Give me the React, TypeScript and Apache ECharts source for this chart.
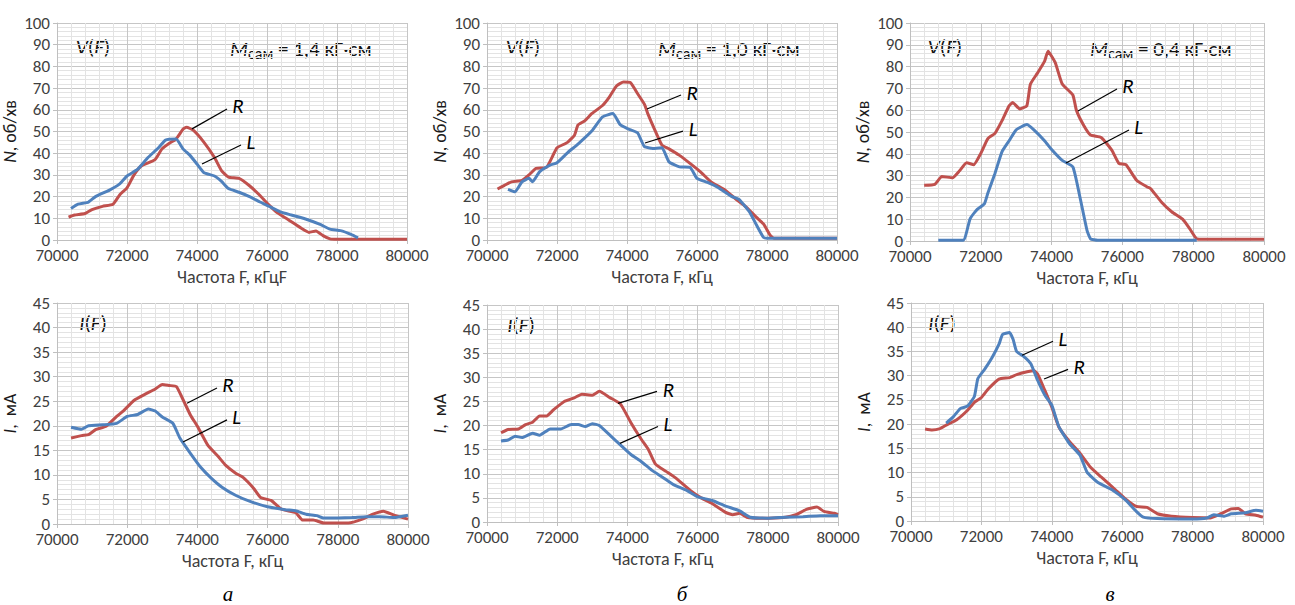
import React, { useEffect, useRef } from "react";
import * as echarts from "echarts";

const FONT = "Carlito, 'Liberation Sans', Arial, sans-serif";
const RED = "#c0504d";
const BLUE = "#4f81bd";

// ---- data (F, value) ----
const topA_R = [[70330,10.5],[70500,11.5],[70800,12.2],[71000,14],[71300,15.5],[71600,16.5],[71800,21],[72000,24],[72200,30],[72400,34],[72800,37],[73000,42],[73200,44.5],[73400,46.5],[73600,51],[73700,52],[73900,50.5],[74200,45],[74500,38],[74700,32],[74900,29],[75200,28.4],[75500,25],[75800,20.5],[76000,17],[76300,12.5],[76600,9.5],[77000,5.2],[77200,3.5],[77400,4.2],[77600,2],[77800,0.5],[78000,0.3],[80000,0.3]];
const topA_L = [[70400,14.5],[70600,16.5],[70900,17.5],[71100,20],[71500,23],[71800,26],[72000,29.5],[72300,32.5],[72600,38],[72900,42.5],[73100,46],[73400,46.5],[73600,42],[73800,39],[74000,35],[74200,31],[74500,29.5],[74700,27],[74900,23.7],[75200,22],[75500,20],[75800,17.5],[76000,16],[76400,12.8],[76700,11.5],[77100,9.7],[77500,7.3],[77800,5],[78100,4.3],[78400,2.6],[78600,1]];
const topB_R = [[70300,23.5],[70500,25.2],[70700,26.8],[71000,27.5],[71200,30],[71400,33],[71700,33.5],[71900,39.5],[72000,42.5],[72300,45],[72500,48.3],[72600,53],[72800,55],[73000,58.3],[73300,62],[73500,66],[73700,71],[73900,72.8],[74100,72.5],[74300,67.5],[74500,62.5],[74600,58],[74800,50.5],[75000,43.7],[75200,42],[75500,39],[75800,35.3],[76100,31.4],[76400,26.8],[76800,23],[77100,19],[77400,15.3],[77700,10.4],[77900,7.4],[78100,2],[78200,0.8],[80000,0.8]];
const topB_L = [[70600,23.3],[70800,22.2],[71000,26.8],[71200,28.4],[71300,26.8],[71500,31.4],[71800,34.5],[72000,35.6],[72300,40.2],[72600,44.2],[73000,50.3],[73300,56.7],[73600,58.3],[73800,53.2],[74000,51.4],[74300,49.4],[74500,43],[74800,42.2],[75000,42.5],[75200,36],[75500,33.7],[75800,33.5],[76000,28.4],[76300,26.5],[76600,24.2],[77000,20],[77200,18.7],[77500,13],[77700,6.9],[77900,1.2],[78000,0.8],[80000,0.8]];
const topC_R = [[70400,25.6],[70700,26],[70900,29.6],[71200,29],[71400,32.2],[71600,35.9],[71800,35],[72000,40.2],[72200,47],[72400,49.4],[72600,55.2],[72800,62],[72900,63.5],[73100,60.6],[73300,62],[73400,71.9],[73600,77],[73800,82.4],[73900,87],[74100,81.9],[74300,72],[74600,67],[74700,60],[74900,53.2],[75100,48.6],[75400,47.5],[75700,41.7],[75900,35.6],[76100,35],[76400,27.9],[76700,24.8],[76800,24],[77100,17.9],[77400,13.3],[77700,10],[77900,5.7],[78100,1],[78300,0.8],[80000,0.8]];
const topC_L = [[70800,0.3],[71500,0.3],[71700,10.3],[71900,14.5],[72100,17],[72200,22],[72400,31],[72600,41],[72800,46],[73000,51],[73300,53.4],[73500,51],[73800,46],[74000,42],[74300,37],[74600,34],[74800,20.2],[75000,4.9],[75100,1],[75300,0.3],[78100,0.3]];
const botA_R = [[70400,17.5],[70700,18],[70900,18.2],[71100,19.2],[71400,19.9],[71700,21.9],[71900,23.1],[72200,25.2],[72500,26.4],[72800,27.5],[73000,28.4],[73200,28.2],[73400,28],[73600,25.2],[73800,22.2],[74000,19.9],[74300,16],[74600,13.7],[74800,12],[75100,10.3],[75300,9.5],[75600,7.3],[75800,5.4],[76100,4.8],[76400,3],[76800,2.3],[77000,0.8],[77300,0.8],[77600,0.2],[78300,0.2],[78700,1],[79000,2],[79300,2.6],[79600,1.8],[80000,1]];
const botA_L = [[70400,19.7],[70700,19.3],[70900,20],[71300,20.2],[71700,20.5],[72000,21.9],[72300,22.3],[72600,23.4],[72800,23],[73000,21.8],[73300,20.5],[73500,17.5],[73800,14.4],[74100,11.5],[74400,9.3],[74700,7.5],[75100,5.8],[75500,4.6],[76000,3.5],[76500,2.9],[76800,2.7],[77100,2],[77400,1.7],[77600,1.2],[78400,1.3],[78800,1.5],[79200,1.5],[79600,1.3],[80000,1.8]];
const botB_R = [[70400,18.5],[70600,19.2],[70900,19.3],[71100,20.2],[71300,20.7],[71500,22],[71700,22],[71900,23.3],[72200,25],[72500,25.8],[72700,26.5],[73000,26.3],[73200,27.1],[73500,25.8],[73800,24.5],[74100,20.6],[74400,17.1],[74600,15],[74800,12],[75100,10.5],[75400,9],[75800,6.5],[76100,5],[76400,3.9],[76800,2],[77000,1.5],[77200,1.8],[77400,1],[77800,0.8],[78500,1],[78800,1.5],[79100,2.6],[79400,3.1],[79600,2.2],[79900,1.8],[80000,1.5]];
const botB_L = [[70400,16.8],[70600,17],[70800,17.8],[71000,17.5],[71300,18.4],[71500,18],[71800,19.3],[72100,19.3],[72400,20.2],[72600,20.2],[72800,19.8],[73000,20.4],[73200,20],[73500,18],[73800,16],[74100,14],[74400,12.5],[74700,10.7],[75000,9.3],[75300,7.8],[75700,6.5],[76000,5.2],[76400,4.5],[76800,3.3],[77200,2.3],[77500,1],[78000,0.8],[78500,1],[79000,1.1],[79500,1.3],[80000,1.3]];
const botC_R = [[70400,19],[70600,18.8],[70800,19],[71000,19.8],[71300,20.9],[71600,22.8],[71800,24.5],[72000,25.5],[72200,27.3],[72500,29.3],[72800,29.6],[73000,30.2],[73300,30.8],[73500,31],[73600,30.3],[73800,27],[74000,23.5],[74200,19.4],[74500,16.4],[74800,14],[75100,11.1],[75400,9.1],[75800,6.5],[76100,4.5],[76400,3],[76700,2.8],[77000,1.5],[77400,1],[78000,0.7],[78500,0.6],[78800,1.5],[79100,2.5],[79300,2.6],[79500,1.5],[79800,1.2],[80000,0.8]];
const botC_L = [[71000,20.2],[71200,21.5],[71400,23.2],[71600,23.7],[71800,25.7],[71900,29.4],[72100,31.4],[72300,33.7],[72500,36.5],[72600,38.5],[72800,38.9],[72900,37.5],[73000,35],[73200,34],[73400,32.5],[73600,29],[73800,26],[74000,23.9],[74200,19.5],[74500,16],[74800,13.6],[75000,10.1],[75300,8],[75700,6.5],[76100,4.3],[76400,2],[76600,0.8],[77000,0.5],[78000,0.4],[78400,0.6],[78600,1.3],[78900,1],[79100,1.5],[79500,1.7],[79800,2.2],[80000,2]];

// leader lines (data coordinates)
const leadTopA_R = [[73857,51.2],[74857,60.4]];
const leadTopA_L = [[74143,35],[75257,43.8]];
const leadTopB_R = [[74571,60.4],[75543,66.8]];
const leadTopB_L = [[74514,44.7],[75600,50.2]];
const leadTopC_R = [[74746,59.6],[75847,69.7]];
const leadTopC_L = [[74407,35.8],[76186,50.9]];
const leadBotA_R = [[73704,24.6],[74558,27.7]];
const leadBotA_L = [[73590,16.7],[74843,21.2]];
const leadBotB_R = [[73732,24.6],[74843,27.1]];
const leadBotB_L = [[73789,16.3],[74872,19.8]];
const leadBotC_R = [[73780,29.3],[74461,31.3]];
const leadBotC_L = [[73156,34.2],[74035,37.1]];

const xTitles = ["Частота F, кГцF", "Частота F, кГц", "Частота F, кГц", "Частота F, кГц", "Частота F, кГц", "Частота F, кГц"];
const torques = ["1,4", "1,0", "0,4"];
const captions = ["а", "б", "в"];

const grids = [
  { left: 57, top: 23, width: 350, height: 217 },
  { left: 487, top: 23, width: 350, height: 217 },
  { left: 910, top: 23, width: 354, height: 218 },
  { left: 57, top: 303, width: 351, height: 221 },
  { left: 487, top: 305, width: 351, height: 217 },
  { left: 911, top: 303, width: 352, height: 218 },
];

const TXT = "#404040";

function xAx(i: number) {
  return {
    type: "value", gridIndex: i, min: 70000, max: 80000, interval: 2000,
    name: xTitles[i], nameLocation: "middle", nameGap: 28,
    nameTextStyle: { fontSize: 18, color: TXT, fontFamily: FONT },
    axisLine: { show: true, onZero: false, lineStyle: { color: "#bfbfbf" } },
    axisTick: { show: true, length: 4, lineStyle: { color: "#bfbfbf" } },
    axisLabel: { fontSize: 17, color: TXT, margin: 8, fontFamily: FONT, lineHeight: 15, showMinLabel: true, showMaxLabel: true, formatter: (v: number) => String(v) },
    splitLine: { show: true, lineStyle: { color: "#c6c6c6", width: 1 } },
    minorTick: { show: false, splitNumber: 5 },
    minorSplitLine: { show: true, lineStyle: { color: "#e3e3e3", width: 1 } },
  };
}
function yAx(i: number) {
  const top = i < 3;
  return {
    type: "value", gridIndex: i, min: 0, max: top ? 100 : 45, interval: top ? 10 : 5,
    name: top ? "{i|N}, об/хв" : "{i|I},  мА", nameLocation: "middle", nameGap: 38,
    nameTextStyle: { fontSize: 18, color: "#1a1a1a", fontFamily: FONT, rich: { i: { fontStyle: "italic", fontSize: 18, fontFamily: FONT, color: "#1a1a1a" } } },
    axisLine: { show: true, lineStyle: { color: "#bfbfbf" } },
    axisTick: { show: true, length: 4, lineStyle: { color: "#bfbfbf" } },
    axisLabel: { fontSize: 17, color: TXT, margin: 7, fontFamily: FONT, lineHeight: 15 },
    splitLine: { show: true, lineStyle: { color: "#c6c6c6", width: 1 } },
    minorTick: { show: false, splitNumber: 5 },
    minorSplitLine: { show: true, lineStyle: { color: "#e3e3e3", width: 1 } },
  };
}

function curve(name: string, data: number[][], color: string, gi: number, lead: number[][], label: string) {
  return {
    type: "line", name, xAxisIndex: gi, yAxisIndex: gi, data,
    showSymbol: false, symbol: "none", smooth: 0.15,
    lineStyle: { color, width: 3 }, itemStyle: { color },
    emphasis: { disabled: true },
    markLine: {
      silent: true, symbol: ["none", "none"], animation: false,
      lineStyle: { color: "#000", width: 1.2, type: "solid" },
      emphasis: { disabled: true },
      label: { show: true, position: "end", formatter: label, fontStyle: "italic", fontSize: 21, color: "#000", fontFamily: FONT, distance: 6 },
      data: [[{ coord: lead[0] }, { coord: lead[1] }]],
    },
  };
}

const series = [
  curve("R", topA_R, RED, 0, leadTopA_R, "R"),
  curve("L", topA_L, BLUE, 0, leadTopA_L, "L"),
  curve("R", topB_R, RED, 1, leadTopB_R, "R"),
  curve("L", topB_L, BLUE, 1, leadTopB_L, "L"),
  curve("R", topC_R, RED, 2, leadTopC_R, "R"),
  curve("L", topC_L, BLUE, 2, leadTopC_L, "L"),
  curve("R", botA_R, RED, 3, leadBotA_R, "R"),
  curve("L", botA_L, BLUE, 3, leadBotA_L, "L"),
  curve("R", botB_R, RED, 4, leadBotB_R, "R"),
  curve("L", botB_L, BLUE, 4, leadBotB_L, "L"),
  curve("R", botC_R, RED, 5, leadBotC_R, "R"),
  curve("L", botC_L, BLUE, 5, leadBotC_L, "L"),
];

const richBase = {
  i: { fontStyle: "italic", fontSize: 21, fontFamily: FONT, fill: "#111", lineHeight: 24 },
  n: { fontSize: 21, fontFamily: FONT, fill: "#111", lineHeight: 24 },
  s: { fontSize: 16, fontFamily: FONT, fill: "#111", verticalAlign: "bottom", lineHeight: 16 },
};

const vPos = [93, 523, 945];
const mPos = [230, 658, 1090];
const iPos = [[93, 323], [521, 325], [942, 323]];
const capPos = [228, 682, 1110];

const graphics: any[] = [];
for (let k = 0; k < 3; k++) {
  graphics.push({
    type: "text", x: vPos[k], y: 47, silent: true,
    style: { text: "{i|V}{n|(}{i|F}{n|)}", rich: richBase, fontSize: 21, fontFamily: FONT, align: "center", verticalAlign: "middle", fill: "#111" },
  });
  graphics.push({
    type: "text", x: mPos[k], y: 49, silent: true,
    style: { text: "{i|M}{s|сам}{n| = " + torques[k] + " кГ·см}", rich: richBase, fontSize: 21, fontFamily: FONT, align: "left", verticalAlign: "middle", fill: "#111" },
  });
  graphics.push({
    type: "text", x: iPos[k][0], y: iPos[k][1], silent: true,
    style: { text: "{i|I}{n|(}{i|F}{n|)}", rich: richBase, fontSize: 21, fontFamily: FONT, align: "center", verticalAlign: "middle", fill: "#111" },
  });
  graphics.push({
    type: "text", x: capPos[k], y: 594, silent: true,
    style: { text: captions[k], font: "italic 21px 'Liberation Serif', 'DejaVu Serif', serif", fill: "#000", align: "center", verticalAlign: "middle" },
  });
}

const option = {
  animation: false,
  backgroundColor: "#fff",
  grid: grids.map((g) => ({ ...g, containLabel: false })),
  xAxis: [0, 1, 2, 3, 4, 5].map(xAx),
  yAxis: [0, 1, 2, 3, 4, 5].map(yAx),
  series,
  graphic: graphics,
};

export default function App() {
  const ref = useRef<HTMLDivElement>(null);
  useEffect(() => {
    const chart = echarts.init(ref.current!, null, { renderer: "svg" });
    chart.setOption(option as any);
    return () => chart.dispose();
  }, []);
  return <div ref={ref} style={{ position: "absolute", left: 0, top: 0, width: 1295, height: 605, background: "#fff" }} />;
}
